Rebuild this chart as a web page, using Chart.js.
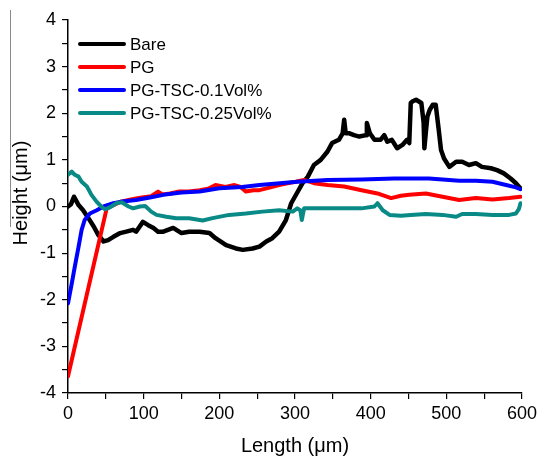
<!DOCTYPE html>
<html>
<head>
<meta charset="utf-8">
<script src="https://cdn.jsdelivr.net/npm/chart.js@4.4.1/dist/chart.umd.min.js"></script>
<style>
  body { margin: 0; background: #fff; }
  #wrap { position: relative; width: 541px; height: 458px; }
  #edge { position: absolute; left: 10px; top: 10px; width: 1px; height: 217px; background: #8a8a8a; }
</style>
</head>
<body>
<div id="wrap">
  <canvas id="profileChart" width="541" height="458"></canvas>
  <div id="edge"></div>
</div>
<script>
// surface profiles, length in µm, height in µm
const bareX = [0, 4, 8, 14, 20, 27, 34, 40, 47, 53, 60, 69, 77, 86, 90, 99, 106, 113, 119, 126, 139, 150, 160, 174, 187, 195, 209, 222, 231, 244, 253, 262, 270, 279, 288, 295, 303, 310, 317, 325, 334, 343, 349, 358, 363, 365, 367, 372, 378, 385, 394, 395, 399, 405, 413, 418, 422, 428, 435, 442, 448, 451, 453, 455, 460, 467, 470, 471, 473, 475, 478, 482, 486, 490, 493, 497, 504, 513, 521, 530, 539, 547, 559, 567, 576, 585, 592, 598];
const bareY = [0, 0.05, 0.21, 0.03, -0.08, -0.25, -0.43, -0.61, -0.75, -0.72, -0.65, -0.57, -0.54, -0.5, -0.54, -0.33, -0.4, -0.46, -0.54, -0.54, -0.46, -0.57, -0.54, -0.54, -0.57, -0.68, -0.83, -0.9, -0.93, -0.9, -0.86, -0.75, -0.68, -0.54, -0.29, 0.07, 0.3, 0.5, 0.64, 0.89, 1.0, 1.18, 1.36, 1.43, 1.57, 1.86, 1.57, 1.57, 1.53, 1.5, 1.53, 1.79, 1.57, 1.43, 1.43, 1.53, 1.39, 1.43, 1.25, 1.32, 1.43, 1.36, 2.22, 2.25, 2.29, 2.22, 1.8, 1.25, 1.6, 1.93, 2.07, 2.18, 2.18, 1.64, 1.21, 1.03, 0.85, 0.96, 0.96, 0.89, 0.93, 0.85, 0.82, 0.78, 0.71, 0.6, 0.5, 0.39];

const pgX = [0, 51, 56, 60, 69, 80, 90, 100, 110, 119, 125, 135, 147, 160, 174, 185, 195, 208, 220, 228, 235, 245, 253, 265, 279, 290, 301, 312, 325, 343, 365, 388, 409, 427, 440, 451, 473, 495, 517, 539, 561, 583, 598];
const pgY = [-3.64, -0.05, 0.0, 0.03, 0.1, 0.14, 0.17, 0.2, 0.22, 0.32, 0.26, 0.28, 0.32, 0.32, 0.35, 0.38, 0.46, 0.42, 0.46, 0.42, 0.32, 0.35, 0.35, 0.4, 0.46, 0.5, 0.53, 0.57, 0.5, 0.46, 0.43, 0.35, 0.28, 0.18, 0.23, 0.25, 0.28, 0.21, 0.14, 0.18, 0.15, 0.18, 0.21];

const tsc01X = [0, 5, 9, 14, 18, 22, 29, 38, 47, 60, 69, 90, 110, 126, 150, 174, 200, 230, 253, 280, 303, 343, 388, 431, 453, 477, 495, 517, 539, 561, 579, 592, 598];
const tsc01Y = [-2.08, -1.65, -1.29, -0.86, -0.5, -0.29, -0.15, -0.08, 0.0, 0.07, 0.1, 0.14, 0.2, 0.25, 0.3, 0.32, 0.39, 0.42, 0.46, 0.5, 0.53, 0.57, 0.58, 0.6, 0.6, 0.6, 0.58, 0.55, 0.55, 0.53, 0.46, 0.41, 0.37];

const tsc025X = [0, 5, 9, 14, 18, 25, 31, 38, 44, 49, 55, 64, 71, 80, 86, 95, 102, 110, 117, 130, 143, 160, 178, 191, 213, 235, 257, 279, 297, 303, 307, 309, 312, 334, 365, 388, 405, 409, 416, 425, 440, 453, 473, 495, 513, 521, 539, 561, 583, 592, 596, 598];
const tsc025Y = [0.68, 0.75, 0.68, 0.64, 0.53, 0.43, 0.25, 0.1, 0.0, -0.06, -0.02, 0.07, 0.09, 0.0, -0.04, 0.0, 0.01, -0.11, -0.18, -0.22, -0.25, -0.25, -0.3, -0.25, -0.18, -0.15, -0.11, -0.08, -0.11, -0.04, -0.08, -0.29, -0.04, -0.04, -0.04, -0.04, 0.0, 0.07, -0.08, -0.18, -0.2, -0.18, -0.16, -0.18, -0.22, -0.16, -0.16, -0.18, -0.18, -0.15, -0.05, 0.07];

const seriesNames = ['Bare', 'PG', 'PG-TSC-0.1Vol%', 'PG-TSC-0.25Vol%'];
const seriesColors = ['#000000', '#ff0000', '#0000ff', '#0a8a86'];

const toPoints = (xs, ys) => xs.map((x, i) => ({ x: x, y: ys[i] }));
const profiles = [toPoints(bareX, bareY), toPoints(pgX, pgY), toPoints(tsc01X, tsc01Y), toPoints(tsc025X, tsc025Y)];

const FONT = 'Liberation Sans, Arial, sans-serif';

// legend inside the plot (upper left) and the rotated y title
const insideLegend = {
  id: 'insideLegend',
  afterDatasetsDraw(chart) {
    const { ctx, chartArea } = chart;
    ctx.save();
    ctx.font = '17px ' + FONT;
    ctx.textBaseline = 'middle';
    chart.data.datasets.forEach((ds, i) => {
      const y = chartArea.top + 24 + i * 23;
      const x0 = chartArea.left + 12;
      ctx.strokeStyle = ds.borderColor;
      ctx.lineWidth = 4;
      ctx.lineCap = 'round';
      ctx.beginPath();
      ctx.moveTo(x0, y);
      ctx.lineTo(x0 + 44, y);
      ctx.stroke();
      ctx.fillStyle = '#000';
      ctx.fillText(ds.label, x0 + 50, y + 1);
    });

    ctx.translate(21, 193);
    ctx.rotate(-Math.PI / 2);
    ctx.font = '20px ' + FONT;
    ctx.textAlign = 'center';
    ctx.fillText('Height (μm)', 0, 0);
    ctx.restore();
  }
};

const ctx = document.getElementById('profileChart').getContext('2d');

new Chart(ctx, {
  type: 'line',
  data: {
    datasets: profiles.map((pts, i) => ({
      label: seriesNames[i],
      data: pts,
      borderColor: seriesColors[i],
      backgroundColor: seriesColors[i],
      borderWidth: i === 0 ? 4.5 : 4,
      borderJoinStyle: 'round',
      borderCapStyle: 'round',
      pointRadius: 0,
      tension: 0,
      fill: false,
      order: 4 - i
    }))
  },
  options: {
    responsive: false,
    animation: false,
    layout: { padding: { top: 20, right: 18, left: 0, bottom: 0 } },
    plugins: {
      legend: { display: false },
      tooltip: { enabled: false }
    },
    scales: {
      x: {
        type: 'linear',
        min: 0,
        max: 600,
        afterFit: (s) => { s.height = 65; },
        border: { display: true, color: '#000', width: 1.5 },
        grid: { drawOnChartArea: false, drawTicks: true, tickLength: 6, color: '#000', lineWidth: 1.2 },
        ticks: {
          stepSize: 50,
          autoSkip: false,
          maxRotation: 0,
          padding: 4,
          color: '#000',
          font: { family: FONT, size: 18 },
          callback: (v) => (v % 100 === 0 ? v : '')
        },
        title: {
          display: true,
          text: 'Length (μm)',
          color: '#000',
          font: { family: FONT, size: 20 },
          padding: { top: 0, bottom: 0 }
        }
      },
      y: {
        min: -4,
        max: 4,
        afterFit: (s) => { s.width = 68; },
        border: { display: true, color: '#000', width: 1.5 },
        grid: { drawOnChartArea: false, drawTicks: true, tickLength: 6, color: '#000', lineWidth: 1.2 },
        ticks: {
          stepSize: 0.5,
          autoSkip: false,
          padding: 6,
          color: '#000',
          font: { family: FONT, size: 18 },
          callback: (v) => (Number.isInteger(v) ? v : '')
        }
      }
    }
  },
  plugins: [insideLegend]
});
</script>
</body>
</html>
